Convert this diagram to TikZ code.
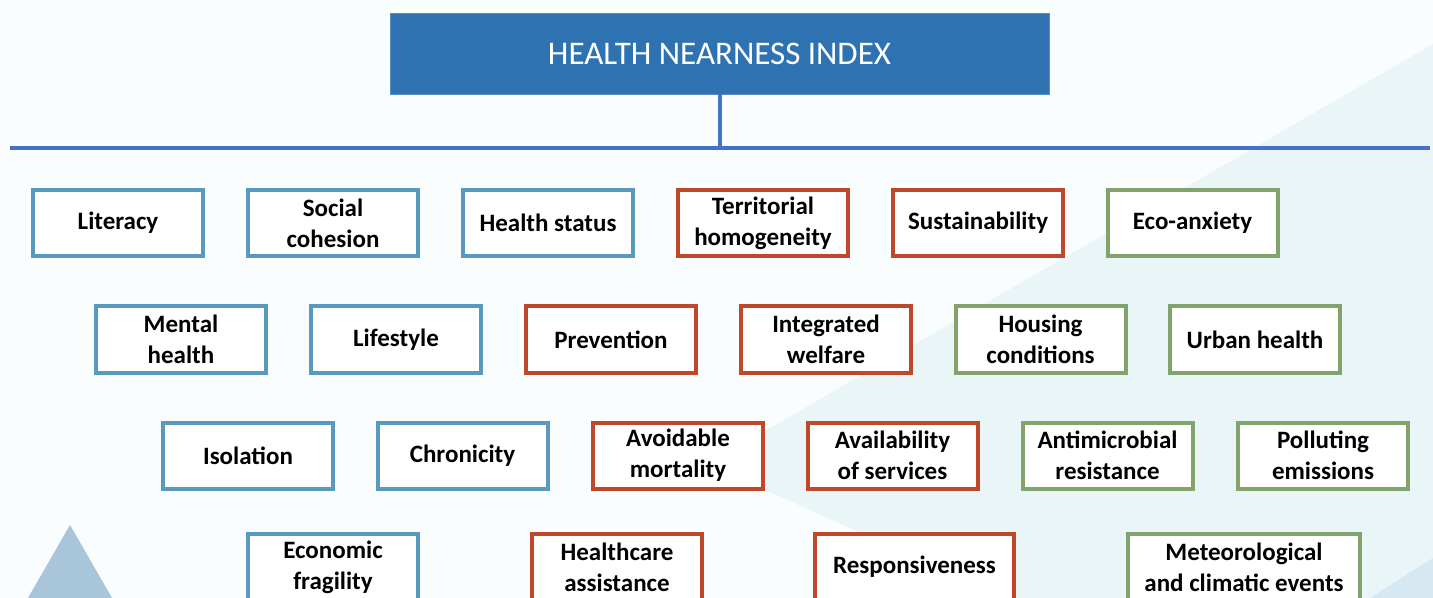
\documentclass[tikz,border=0pt]{standalone}
\usepackage{fontspec}
\setmainfont{Carlito}

\definecolor{paper}{RGB}{250,253,254}
\definecolor{haze}{RGB}{234,245,248}
\definecolor{hazedark}{RGB}{214,232,242}
\definecolor{steel}{RGB}{168,197,217}
\definecolor{hniblue}{RGB}{46,114,178}
\definecolor{barblue}{RGB}{68,114,196}
\definecolor{socblue}{RGB}{88,153,190}
\definecolor{sysred}{RGB}{192,72,42}
\definecolor{envgreen}{RGB}{130,163,108}

\tikzset{
  indicator/.style={draw, line width=2pt, fill=white, align=center, inner sep=0pt,
    minimum width=85pt, minimum height=33pt,
    font=\bfseries\fontsize{12.5}{15.5}\selectfont},
  social/.style={indicator, draw=socblue},
  system/.style={indicator, draw=sysred},
  environ/.style={indicator, draw=envgreen},
  barline/.style={draw=barblue, line width=2pt},
}

\begin{document}
\begin{tikzpicture}[x=0.5pt,y=0.5pt,yscale=-1,xscale=1]
\useasboundingbox (0,0) rectangle (1433,598);
\fill[paper] (0,0) rectangle (1433,598);

%Shape: Polygon, pale backdrop
\fill[haze] (1433,44) -- (708,464) -- (1005,598) -- (1433,598) -- cycle;
\fill[hazedark] (1433,558) -- (1370,598) -- (1433,598) -- cycle;
%Shape: Triangle
\fill[steel] (70,525) -- (112,598) -- (28,598) -- cycle;

% Text Node
\draw (719.5,53.5) node [fill=hniblue, draw=hniblue!80!white, line width=0.4pt,
  minimum width=329.5pt, minimum height=40.5pt, text=white,
  font=\fontsize{16.5}{20}\selectfont] (hni) {HEALTH NEARNESS INDEX};

%Straight Lines
\coordinate (barL) at (10,148);
\coordinate (barR) at (1430,148);
\draw [barline] (barL) -- (barR);
\draw [barline] (hni.south) -- (hni.south |- barL);

% Text Node
\draw (118,223) node [social] (literacy) {Literacy};
\draw (333,223) node [social] (cohesion) {Social\\cohesion};
\draw (548,223) node [social] (status) {Health status};
\draw (763,223) node [system] (homog) {Territorial\\homogeneity};
\draw (978,223) node [system] (sustain) {Sustainability};
\draw (1192.5,223) node [environ] (ecoanx) {Eco-anxiety};

% Text Node
\draw (181,339.5) node [social] (mental) {Mental\\health};
\draw (396,339.5) node [social] (lifestyle) {Lifestyle};
\draw (611,339.5) node [system] (prevent) {Prevention};
\draw (826,339.5) node [system] (welfare) {Integrated\\welfare};
\draw (1040.5,339.5) node [environ] (housing) {Housing\\conditions};
\draw (1255,339.5) node [environ] (urban) {Urban health};

% Text Node
\draw (248,455.5) node [social] (isolation) {Isolation};
\draw (462.5,455.5) node [social] (chronic) {Chronicity};
\draw (678,455.5) node [system] (avoid) {Avoidable\\mortality};
\draw (892.5,455.5) node [system] (avail) {Availability\\of services};
\draw (1107.5,455.5) node [environ] (antimic) {Antimicrobial\\resistance};
\draw (1323,455.5) node [environ] (pollut) {Polluting\\emissions};

% Text Node
\draw (333,567) node [social] (econ) {Economic\\fragility};
\draw (617,567) node [system] (care) {Healthcare\\assistance};
\draw (914.5,567) node [system, minimum width=99.5pt] (respons) {Responsiveness};
\draw (1244,567) node [environ, minimum width=116pt] (meteo) {Meteorological\\and climatic events};

\end{tikzpicture}
\end{document}
